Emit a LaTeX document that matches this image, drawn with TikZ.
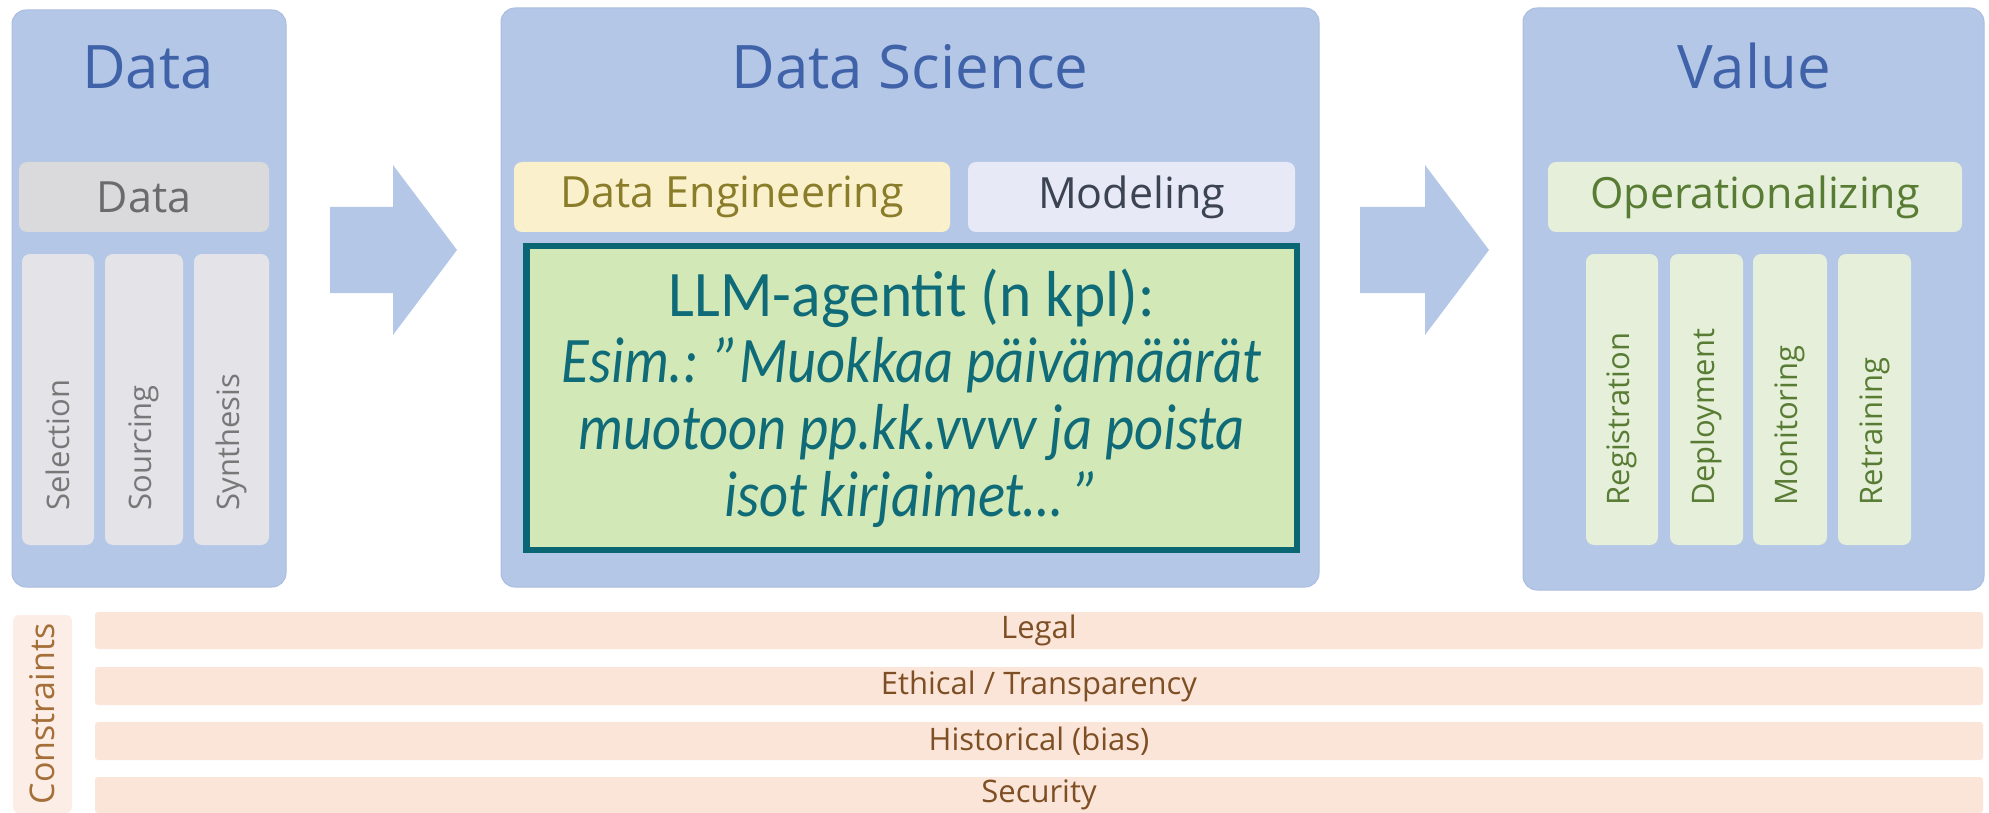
\documentclass[tikz,border=0pt]{standalone}
\usepackage{fontspec}
\setmainfont{Open Sans}
\newfontfamily\llmup[FakeStretch=0.945]{Carlito}
\newfontfamily\llmit[FakeStretch=0.87,UprightFont=*-Italic]{Carlito}
\definecolor{panel}{HTML}{B4C7E7}
\definecolor{paneledge}{HTML}{AABDE0}
\definecolor{titleblue}{HTML}{3F62A8}
\definecolor{graybar}{HTML}{DADADC}
\definecolor{graytext}{HTML}{6B6B6B}
\definecolor{graycol}{HTML}{E4E4E8}
\definecolor{graycoltext}{HTML}{787878}
\definecolor{defill}{HTML}{FBF0CC}
\definecolor{detext}{HTML}{8A7D2A}
\definecolor{modfill}{HTML}{E7EAF6}
\definecolor{modtext}{HTML}{3C4352}
\definecolor{llmfill}{HTML}{D3E8B7}
\definecolor{llmedge}{HTML}{0B6673}
\definecolor{llmtext}{HTML}{0F6B78}
\definecolor{opfill}{HTML}{E6EFDA}
\definecolor{optext}{HTML}{587C33}
\definecolor{confill}{HTML}{FBE5D8}
\definecolor{context}{HTML}{7E4F25}
\definecolor{conlabfill}{HTML}{FCEEE6}
\definecolor{conlabtext}{HTML}{A46F38}
\newcommand{\rbox}[7]{\node[#1, inner sep=0pt, outer sep=0pt,
  minimum width=#5pt-#3pt, minimum height=#6pt-#4pt]
  (#2) at ({(#3+#5)/2},{(#4+#6)/2}) {#7};}
\tikzset{
  panelbox/.style={fill=panel, draw=paneledge, line width=1pt, rounded corners=14pt},
  paneltitle/.style={text=titleblue, anchor=base, font=\fontsize{60}{72}\selectfont},
  barlabel/.style={font=\fontsize{43}{50}\selectfont},
  graybarbox/.style={fill=graybar, rounded corners=8pt, text=graytext, barlabel},
  graycolbox/.style={fill=graycol, rounded corners=8pt},
  graycollabel/.style={text=graycoltext, rotate=90, anchor=west, font=\fontsize{31}{36}\selectfont},
  debox/.style={fill=defill, rounded corners=8pt, text=detext, barlabel},
  modbox/.style={fill=modfill, rounded corners=8pt, text=modtext, barlabel},
  llmbox/.style={fill=llmfill, draw=llmedge, line width=6.5pt, text=llmtext, align=center,
    font=\llmup\fontsize{65}{66.7}\selectfont},
  opbox/.style={fill=opfill, rounded corners=8pt, text=optext, barlabel},
  opcolbox/.style={fill=opfill, rounded corners=8pt},
  opcollabel/.style={text=optext, rotate=90, anchor=west, font=\fontsize{31}{36}\selectfont},
  blockarrow/.style={fill=panel},
  conbar/.style={fill=confill, rounded corners=3pt, text=context, font=\fontsize{31}{36}\selectfont},
  conlabbox/.style={fill=conlabfill, rounded corners=6pt},
  conlabel/.style={text=conlabtext, rotate=90, font=\fontsize{34}{40}\selectfont}
}
\begin{document}
\begin{tikzpicture}[x=1pt,y=-1pt]
\fill[white] (0,0) rectangle (1989,813);
\useasboundingbox (0,0) rectangle (1989,813);
% panels
\rbox{panelbox}{pdata}{12}{10}{286}{587}{}
\rbox{panelbox}{pds}{501}{8}{1319}{587}{}
\rbox{panelbox}{pval}{1523}{8}{1984}{590}{}
\node[paneltitle] (tdata) at (148,89) {Data};
\node[paneltitle] (tds) at (910,89) {Data Science};
\node[paneltitle] (tval) at (1754,89) {Value};
% block arrows
\fill[blockarrow] (330,207) -- (393,207) -- (393,165) -- (457,250) -- (393,335) -- (393,293) -- (330,293) -- cycle;
\fill[blockarrow] (1360,207) -- (1425,207) -- (1425,165) -- (1489,250) -- (1425,335) -- (1425,293) -- (1360,293) -- cycle;
% Data panel
\rbox{graybarbox}{ddata}{19}{162}{269}{232}{Data}
\rbox{graycolbox}{csel}{22}{254}{94}{545}{}
\rbox{graycolbox}{csrc}{105}{254}{183}{545}{}
\rbox{graycolbox}{csyn}{194}{254}{269}{545}{}
\node[graycollabel] (lsel) at (58,514) {Selection};
\node[graycollabel] (lsrc) at (144,514) {Sourcing};
\node[graycollabel] (lsyn) at (231.5,514) {Synthesis};
% Data Science panel
\rbox{debox}{de}{514}{162}{950}{232}{Data Engineering}
\rbox{modbox}{mod}{968}{162}{1295}{232}{Modeling}
\rbox{llmbox}{llm}{526.5}{246}{1297}{550}{LLM-agentit (n kpl):\\
{\llmit Esim.: ”Muokkaa päivämäärät}\\
{\llmit muotoon pp.kk.vvvv ja poista}\\
{\llmit isot kirjaimet… ”}}
% Value panel
\rbox{opbox}{op}{1548}{162}{1962}{232}{Operationalizing}
\rbox{opcolbox}{creg}{1586}{254}{1658}{545}{}
\rbox{opcolbox}{cdep}{1670}{254}{1743}{545}{}
\rbox{opcolbox}{cmon}{1753}{254}{1827}{545}{}
\rbox{opcolbox}{cret}{1838}{254}{1911}{545}{}
\node[opcollabel] (lreg) at (1622,509) {Registration};
\node[opcollabel] (ldep) at (1706.5,509) {Deployment};
\node[opcollabel] (lmon) at (1790,509) {Monitoring};
\node[opcollabel] (lret) at (1874.5,509) {Retraining};
% constraints
\rbox{conlabbox}{conbg}{13}{615}{72}{813}{}
\node[conlabel] (conlab) at (42,714) {Constraints};
\rbox{conbar}{legal}{95}{612}{1983}{649}{Legal}
\rbox{conbar}{ethic}{95}{667}{1983}{705}{Ethical / Transparency}
\rbox{conbar}{hist}{95}{722}{1983}{760}{Historical (bias)}
\rbox{conbar}{secu}{95}{777}{1983}{813}{Security}
\end{tikzpicture}
\end{document}
